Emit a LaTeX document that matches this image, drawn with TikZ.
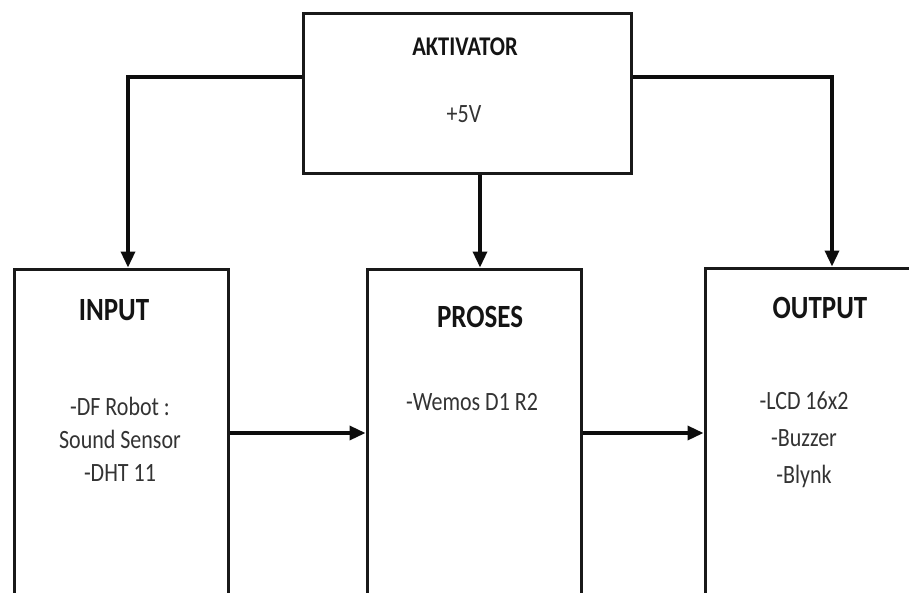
\documentclass[tikz,border=0pt]{standalone}
\usepackage{fontspec}
\setmainfont{Carlito}
\usepackage{graphicx}
\usetikzlibrary{arrows.meta}
\newcommand\vst[1]{\scalebox{1}[1.2]{#1}}
\begin{document}
\begin{tikzpicture}[x=1pt,y=-1pt,
  blk/.style={draw=black!90, line width=3pt, rectangle, inner sep=0pt},
  conn/.style={line width=3.4pt, draw=black!95, -{Triangle[length=16pt,width=14pt]}},
  ttl/.style={font=\fontsize{27}{30}\selectfont\bfseries, text=black!92, inner sep=0pt},
  ttls/.style={font=\fontsize{22.5}{26}\selectfont\bfseries, text=black!92, inner sep=0pt},
  bdy/.style={font=\fontsize{22}{33}\selectfont, text=black!80, align=center, inner sep=0pt}]
\useasboundingbox (0,0) rectangle (909,592);
\clip (0,0) rectangle (909,592);
\fill[white] (0,0) rectangle (909,592);
% boxes
\node[blk, minimum width=328pt, minimum height=160pt] (akt) at (467,93) {};
\node[blk, minimum width=214pt, minimum height=340pt] (inp) at (121,439) {};
\node[blk, minimum width=214pt, minimum height=340pt] (pro) at (474,439) {};
\node[blk, minimum width=214pt, minimum height=340pt] (out) at (812,438) {};
% texts
\node[ttls] (taktt) at (465,47) {\vst{AKTIVATOR}};
\node[bdy] (takv) at (464,114) {\vst{+5V}};
\node[ttl] (tinp) at (114,310) {\vst{INPUT}};
\node[bdy] (tinb) at (120,439) {\vst{-DF Robot :}\\\vst{Sound Sensor}\\\vst{-DHT 11}};
\node[ttl] (tpro) at (480,317) {\vst{PROSES}};
\node[bdy] (tprb) at (472,402) {\vst{-Wemos D1 R2}};
\node[ttl] (tout) at (820,308) {\vst{OUTPUT}};
\node[bdy, font=\fontsize{22}{37}\selectfont] (toub) at (804,440) {\vst{-LCD 16x2}\\\vst{-Buzzer}\\\vst{-Blynk}};
% connectors
\draw[conn] (akt.north west |- 0,77) -| ([xshift=7pt]inp.north);
\draw[conn] ([xshift=13pt]akt.south) -- ([xshift=13pt]akt.south |- pro.north);
\draw[conn] (akt.north east |- 0,77) -| ([xshift=20pt]out.north);
\draw[conn] (inp.east |- 0,433) -- (pro.west |- 0,433);
\draw[conn] (pro.east |- 0,433) -- (out.west |- 0,433);
\end{tikzpicture}
\end{document}
